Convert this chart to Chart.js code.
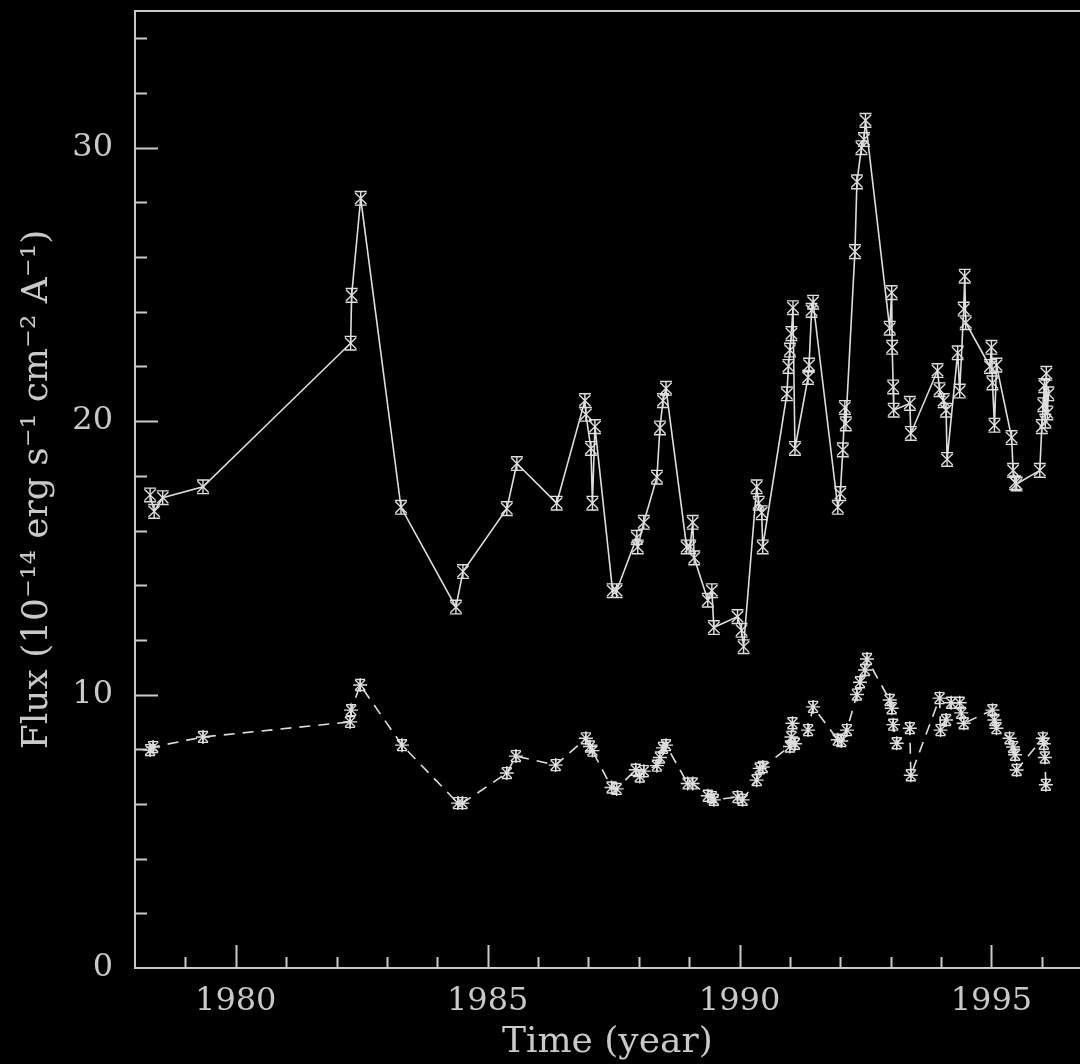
<!DOCTYPE html>
<html>
<head>
<meta charset="utf-8">
<script src="https://cdn.jsdelivr.net/npm/chart.js@4"></script>
<style>
  html, body { margin: 0; padding: 0; background: #000; overflow: hidden; }
  #wrap { position: relative; width: 1089px; height: 1064px; }
</style>
</head>
<body>
<div id="wrap"><canvas id="chart" width="1089" height="1064"></canvas></div>
<script>
// upper light curve (solid line)
const upperYears = [1978.30, 1978.38, 1978.55, 1979.35, 1982.28, 1982.30, 1982.48, 1983.28, 1984.37, 1984.51,
  1985.38, 1985.58, 1986.37, 1986.93, 1986.95, 1987.05, 1987.08, 1987.13, 1987.48, 1987.56,
  1987.96, 1987.98, 1988.10, 1988.36, 1988.42, 1988.48, 1988.54, 1988.95, 1989.02, 1989.07,
  1989.10, 1989.37, 1989.45, 1989.49, 1989.96, 1990.04, 1990.08, 1990.34, 1990.38, 1990.44,
  1990.46, 1990.94, 1990.97, 1991.00, 1991.03, 1991.06, 1991.10, 1991.36, 1991.38, 1991.43,
  1991.46, 1991.95, 1992.00, 1992.05, 1992.09, 1992.11, 1992.29, 1992.33, 1992.42, 1992.47,
  1992.50, 1992.98, 1993.02, 1993.03, 1993.05, 1993.06, 1993.38, 1993.40, 1993.93, 1993.97,
  1994.05, 1994.10, 1994.12, 1994.33, 1994.37, 1994.45, 1994.47, 1994.49, 1994.97, 1995.00,
  1995.02, 1995.06, 1995.10, 1995.40, 1995.43, 1995.47, 1995.50, 1995.96, 1996.00, 1996.03,
  1996.05, 1996.07, 1996.09, 1996.11, 1996.13]
const upperFlux = [17.3, 16.7, 17.2, 17.6, 22.85, 24.6, 28.15, 16.85, 13.2, 14.5,
  16.8, 18.45, 17.0, 20.75, 20.25, 19.0, 17.0, 19.8, 13.8, 13.8,
  15.75, 15.4, 16.3, 17.95, 19.75, 20.75, 21.2, 15.4, 15.4, 16.3,
  15.0, 13.45, 13.8, 12.45, 12.85, 12.35, 11.75, 17.6, 17.0, 16.65,
  15.4, 21.0, 22.0, 22.6, 23.2, 24.15, 19.0, 21.6, 22.05, 24.05,
  24.35, 16.85, 17.35, 18.95, 20.5, 19.9, 26.2, 28.75, 30.0, 30.3,
  31.0, 23.4, 24.7, 22.7, 21.25, 20.4, 20.65, 19.55, 21.85, 21.15,
  20.75, 20.4, 18.6, 22.5, 21.1, 24.1, 25.3, 23.6, 22.0, 22.7,
  21.4, 19.85, 22.05, 19.4, 18.2, 17.75, 17.7, 18.2, 19.8, 20.6,
  21.3, 20.0, 21.75, 20.3, 21.0]
const upperErr = 0.25

// lower light curve (dashed line)
const lowerYears = [1978.30, 1978.36, 1979.35, 1982.27, 1982.29, 1982.47, 1983.30, 1984.41, 1984.50, 1985.38,
  1985.56, 1986.35, 1986.95, 1987.03, 1987.08, 1987.46, 1987.56, 1987.94, 1988.02, 1988.10,
  1988.36, 1988.42, 1988.48, 1988.54, 1988.97, 1989.07, 1989.37, 1989.45, 1989.49, 1989.96,
  1990.06, 1990.34, 1990.40, 1990.46, 1991.00, 1991.03, 1991.05, 1991.10, 1991.36, 1991.46,
  1991.95, 1992.02, 1992.13, 1992.33, 1992.39, 1992.49, 1992.53, 1992.98, 1993.02, 1993.05,
  1993.12, 1993.38, 1993.40, 1993.97, 1993.99, 1994.10, 1994.20, 1994.37, 1994.40, 1994.45,
  1995.02, 1995.06, 1995.10, 1995.36, 1995.43, 1995.47, 1995.50, 1996.02, 1996.04, 1996.06,
  1996.08]
const lowerFlux = [7.97, 8.08, 8.45, 9.0, 9.43, 10.35, 8.15, 6.03, 6.03, 7.13,
  7.75, 7.42, 8.4, 8.1, 7.95, 6.6, 6.55, 7.25, 7.0, 7.2,
  7.4, 7.7, 8.05, 8.15, 6.75, 6.75, 6.3, 6.25, 6.15, 6.25,
  6.15, 6.87, 7.3, 7.35, 8.1, 8.45, 8.95, 8.2, 8.7, 9.55,
  8.35, 8.3, 8.7, 10.0, 10.45, 10.9, 11.3, 9.8, 9.5, 8.9,
  8.22, 8.77, 7.05, 9.87, 8.7, 9.07, 9.7, 9.7, 9.33, 8.95,
  9.43, 9.07, 8.77, 8.4, 8.08, 7.8, 7.24, 8.4, 8.2, 7.7,
  6.7]
const lowerErr = 0.2

// axis ticks
const xLabelTicks = [1980, 1985, 1990, 1995]
const yLabelTicks = [0, 10, 20, 30]

const ink = '#c9c9c9'
const lineInk = '#dedede'

// black background, top frame line and inward tick marks
const framePlugin = {
    id: 'frame',
    beforeDraw(chart) {
        const ctx = chart.ctx
        ctx.save()
        ctx.fillStyle = '#000'
        ctx.fillRect(0, 0, chart.width, chart.height)
        ctx.restore()
    },
    beforeDatasetsDraw(chart) {
        const ctx = chart.ctx
        const area = chart.chartArea
        const xs = chart.scales.x
        const ys = chart.scales.y
        ctx.save()
        ctx.strokeStyle = ink
        ctx.lineWidth = 2
        ctx.beginPath()
        ctx.moveTo(area.left, area.top)
        ctx.lineTo(chart.width, area.top)
        ctx.moveTo(area.right, area.bottom)
        ctx.lineTo(chart.width, area.bottom)
        // x ticks every year, longer every 5
        for (let yr = 1979; yr <= 1996; yr++) {
            const px = Math.round(xs.getPixelForValue(yr)) + 0.5
            const len = yr % 5 === 0 ? 23 : 11
            ctx.moveTo(px, area.bottom)
            ctx.lineTo(px, area.bottom - len)
        }
        // y ticks every 2, longer every 10
        for (let v = 2; v <= 34; v += 2) {
            const py = Math.round(ys.getPixelForValue(v)) + 0.5
            const len = v % 10 === 0 ? 23 : 12
            ctx.moveTo(area.left, py)
            ctx.lineTo(area.left + len, py)
        }
        ctx.stroke()
        ctx.restore()
    }
}

// vertical error bars with caps
const errorBarPlugin = {
    id: 'errorBars',
    afterDatasetsDraw(chart) {
        const ctx = chart.ctx
        const ys = chart.scales.y
        chart.data.datasets.forEach((ds, i) => {
            const meta = chart.getDatasetMeta(i)
            ctx.save()
            ctx.strokeStyle = lineInk
            ctx.lineWidth = 1.4
            ctx.beginPath()
            meta.data.forEach((pt, j) => {
                const v = ds.data[j].y
                const top = ys.getPixelForValue(v + ds.err)
                const bot = ys.getPixelForValue(v - ds.err)
                ctx.moveTo(pt.x, top)
                ctx.lineTo(pt.x, bot)
                ctx.moveTo(pt.x - ds.cap, top)
                ctx.lineTo(pt.x + ds.cap, top)
                ctx.moveTo(pt.x - ds.cap, bot)
                ctx.lineTo(pt.x + ds.cap, bot)
            })
            ctx.stroke()
            ctx.restore()
        })
    }
}

const upperData = upperYears.map((x, i) => ({x: x, y: upperFlux[i]}))
const lowerData = lowerYears.map((x, i) => ({x: x, y: lowerFlux[i]}))

const chart = new Chart(document.getElementById('chart'), {
    type: 'line',
    data: {
        datasets: [{
            label: 'upper',
            data: upperData,
            err: upperErr,
            cap: 6,
            borderColor: lineInk,
            borderWidth: 1.6,
            pointStyle: 'crossRot',
            pointRadius: 8,
            pointBorderColor: lineInk,
            pointBorderWidth: 1.4,
            tension: 0
        }, {
            label: 'lower',
            data: lowerData,
            err: lowerErr,
            cap: 5,
            borderColor: lineInk,
            borderWidth: 1.6,
            borderDash: [11, 8],
            pointStyle: 'star',
            pointRadius: 7,
            pointBorderColor: lineInk,
            pointBorderWidth: 1.4,
            tension: 0
        }]
    },
    options: {
        responsive: false,
        animation: false,
        layout: { padding: { top: 11, right: 0, left: 0, bottom: 0 } },
        plugins: {
            legend: { display: false },
            tooltip: { enabled: false }
        },
        scales: {
            x: {
                type: 'linear',
                min: 1978,
                max: 1996.75,
                afterBuildTicks: (scale) => { scale.ticks = xLabelTicks.map(v => ({value: v})) },
                afterFit: (scale) => {
                    scale.height = 96
                    scale.paddingLeft = 0
                    scale.paddingRight = 0
                },
                grid: { display: false, drawTicks: false },
                border: { display: true, color: ink, width: 2 },
                ticks: {
                    color: ink,
                    padding: 14,
                    font: { family: 'DejaVu Serif', size: 32 },
                    callback: (v) => String(v)
                },
                title: {
                    display: true,
                    text: 'Time (year)',
                    color: ink,
                    padding: { top: 0, bottom: 0 },
                    font: { family: 'DejaVu Serif', size: 36 }
                }
            },
            y: {
                min: 0,
                max: 35,
                afterBuildTicks: (scale) => { scale.ticks = yLabelTicks.map(v => ({value: v})) },
                afterFit: (scale) => {
                    scale.width = 135
                    scale.paddingTop = 0
                    scale.paddingBottom = 0
                },
                grid: { display: false, drawTicks: false },
                border: { display: true, color: ink, width: 2 },
                ticks: {
                    color: ink,
                    padding: 22,
                    font: { family: 'DejaVu Serif', size: 32 },
                    callback: (v) => String(v)
                },
                title: {
                    display: true,
                    text: 'Flux (10\u207B\u00B9\u2074 erg s\u207B\u00B9 cm\u207B\u00B2 A\u207B\u00B9)',
                    color: ink,
                    padding: { top: 16, bottom: 0 },
                    font: { family: 'DejaVu Serif', size: 36 }
                }
            }
        }
    },
    plugins: [framePlugin, errorBarPlugin]
})
</script>
</body>
</html>
